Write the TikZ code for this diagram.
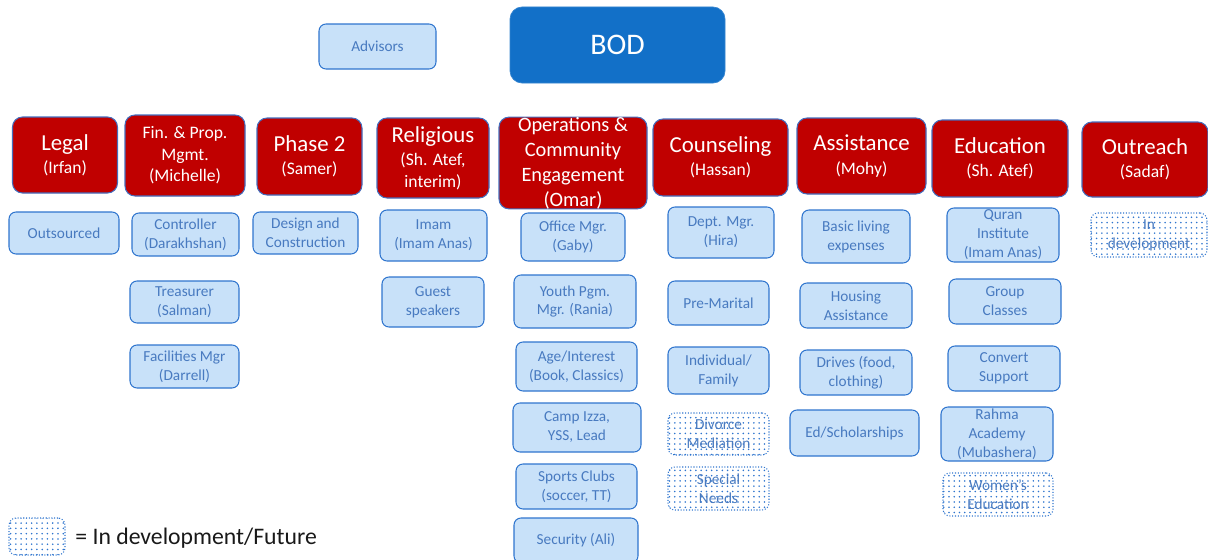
\documentclass[tikz,border=0pt]{standalone}
\usepackage{fontspec}
\setmainfont{Carlito}
\usepackage{tikz}
\usetikzlibrary{shapes}
\usetikzlibrary{positioning}
\usetikzlibrary{patterns}
\definecolor{bodblue}{RGB}{18,112,200}
\definecolor{deptred}{RGB}{192,0,0}
\definecolor{deptline}{RGB}{68,110,190}
\definecolor{unitfill}{RGB}{200,225,249}
\definecolor{unitline}{RGB}{47,117,206}
\definecolor{unittext}{RGB}{72,122,192}
\newcommand{\dtitle}[1]{{\fontsize{13}{15}\selectfont #1}}
\tikzset{
    bodbox/.style = {rectangle, rounded corners=0.24cm, draw=bodblue!85!white, fill=bodblue, text=white, inner sep=0pt, font=\fontsize{17}{20}\selectfont},
    deptbox/.style = {rectangle, rounded corners=0.2cm, line width=0.6pt, draw=deptline, fill=deptred, text=white, align=center, inner sep=0pt, font=\fontsize{10}{12.3}\selectfont},
    unitbox/.style = {rectangle, rounded corners=0.14cm, line width=0.6pt, draw=unitline, fill=unitfill, text=unittext, align=center, inner sep=0pt, font=\fontsize{8.7}{10.8}\selectfont},
    futbox/.style = {rectangle, rounded corners=0.14cm, line width=0.6pt, draw=unitline, densely dotted, pattern=dots, pattern color=unitline, text=unittext, align=center, inner sep=0pt, font=\fontsize{8.7}{10.8}\selectfont},
    legendtext/.style = {anchor=west, inner sep=0pt, text=black!90, font=\fontsize{13.5}{15}\selectfont}
}
\begin{document}
\begin{tikzpicture}[scale=1.00,transform shape]
\path[use as bounding box] (0,0) rectangle (24.16,-11.2);
%
\node[bodbox, minimum width=4.30cm, minimum height=1.52cm] at (12.35,-0.90) (bod) {BOD};
\node[unitbox, minimum width=2.34cm, minimum height=0.90cm] at (7.55,-0.93) (advisors) {Advisors};
%
\node[deptbox, minimum width=2.10cm, minimum height=1.52cm] at (1.30,-3.10) (legal) {\dtitle{Legal}\\[1pt](Irfan)};
\node[deptbox, minimum width=2.40cm, minimum height=1.62cm] at (3.70,-3.11) (fin) {Fin. \& Prop.\\Mgmt.\\(Michelle)};
\node[deptbox, minimum width=2.10cm, minimum height=1.54cm] at (6.19,-3.13) (phase) {\dtitle{Phase 2}\\[1pt](Samer)};
\node[deptbox, minimum width=2.24cm, minimum height=1.60cm] at (8.66,-3.16) (religious) {\dtitle{Religious}\\[1pt](Sh. Atef,\\interim)};
\node[deptbox, minimum width=2.96cm, minimum height=1.80cm, font=\fontsize{11.6}{14.2}\selectfont] at (11.46,-3.26) (ops) {Operations \&\\Community\\Engagement\\(Omar)};
\node[deptbox, minimum width=2.70cm, minimum height=1.54cm] at (14.41,-3.15) (counsel) {\dtitle{Counseling}\\[1pt](Hassan)};
\node[deptbox, minimum width=2.58cm, minimum height=1.52cm] at (17.23,-3.12) (assist) {\dtitle{Assistance}\\[1pt](Mohy)};
\node[deptbox, minimum width=2.72cm, minimum height=1.54cm] at (20.00,-3.17) (edu) {\dtitle{Education}\\[1pt](Sh. Atef)};
\node[deptbox, minimum width=2.52cm, minimum height=1.50cm] at (22.90,-3.19) (outreach) {\dtitle{Outreach}\\[1pt](Sadaf)};
%
\node[unitbox, minimum width=2.20cm, minimum height=0.84cm] at (1.28,-4.66) (outsourced) {Outsourced};
%
\node[unitbox, minimum width=2.14cm, minimum height=0.86cm] at (3.71,-4.69) (controller) {Controller\\(Darakhshan)};
\node[unitbox, minimum width=2.18cm, minimum height=0.84cm] at (3.69,-6.04) (treasurer) {Treasurer\\(Salman)};
\node[unitbox, minimum width=2.18cm, minimum height=0.86cm] at (3.69,-7.33) (facilities) {Facilities Mgr\\(Darrell)};
%
\node[unitbox, minimum width=2.10cm, minimum height=0.84cm] at (6.11,-4.66) (design) {Design and\\Construction};
%
\node[unitbox, minimum width=2.14cm, minimum height=1.02cm] at (8.67,-4.71) (imam) {Imam\\(Imam Anas)};
\node[unitbox, minimum width=2.04cm, minimum height=1.00cm] at (8.66,-6.04) (guest) {Guest\\speakers};
%
\node[unitbox, minimum width=2.08cm, minimum height=0.96cm] at (11.46,-4.74) (office) {Office Mgr.\\(Gaby)};
\node[unitbox, minimum width=2.44cm, minimum height=1.06cm] at (11.50,-6.03) (youth) {Youth Pgm.\\Mgr. (Rania)};
\node[unitbox, minimum width=2.42cm, minimum height=0.98cm] at (11.53,-7.33) (age) {Age/Interest\\(Book, Classics)};
\node[unitbox, minimum width=2.56cm, minimum height=0.98cm] at (11.54,-8.55) (camp) {Camp Izza,\\YSS, Lead};
\node[unitbox, minimum width=2.42cm, minimum height=0.90cm] at (11.53,-9.73) (sports) {Sports Clubs\\(soccer, TT)};
\node[unitbox, minimum width=2.48cm, minimum height=0.90cm] at (11.52,-10.81) (security) {Security (Ali)};
%
\node[unitbox, minimum width=2.12cm, minimum height=1.02cm] at (14.42,-4.65) (deptmgr) {Dept. Mgr.\\(Hira)};
\node[unitbox, minimum width=2.02cm, minimum height=0.88cm] at (14.37,-6.06) (premarital) {Pre-Marital};
\node[unitbox, minimum width=2.02cm, minimum height=0.94cm] at (14.37,-7.41) (individual) {Individual/\\Family};
\node[futbox, minimum width=2.02cm, minimum height=0.84cm] at (14.37,-8.68) (divorce) {Divorce\\Mediation};
\node[futbox, minimum width=2.02cm, minimum height=0.86cm] at (14.37,-9.77) (special) {Special\\Needs};
%
\node[unitbox, minimum width=2.16cm, minimum height=1.06cm] at (17.12,-4.73) (basic) {Basic living\\expenses};
\node[unitbox, minimum width=2.24cm, minimum height=0.90cm] at (17.12,-6.11) (housing) {Housing\\Assistance};
\node[unitbox, minimum width=2.24cm, minimum height=0.90cm] at (17.12,-7.45) (drives) {Drives (food,\\clothing)};
\node[unitbox, minimum width=2.58cm, minimum height=0.92cm] at (17.09,-8.66) (scholar) {Ed/Scholarships};
%
\node[unitbox, minimum width=2.24cm, minimum height=1.08cm] at (20.06,-4.70) (quran) {Quran\\Institute\\(Imam Anas)};
\node[unitbox, minimum width=2.24cm, minimum height=0.90cm] at (20.10,-6.03) (group) {Group\\Classes};
\node[unitbox, minimum width=2.24cm, minimum height=0.90cm] at (20.08,-7.37) (convert) {Convert\\Support};
\node[unitbox, minimum width=2.24cm, minimum height=1.08cm] at (19.94,-8.68) (rahma) {Rahma\\Academy\\(Mubashera)};
\node[futbox, minimum width=2.20cm, minimum height=0.86cm] at (19.96,-9.89) (women) {Women's\\Education};
%
\node[futbox, minimum width=2.32cm, minimum height=0.88cm] at (22.98,-4.70) (indev) {In\\development};
%
\node[futbox, minimum width=1.12cm, minimum height=0.74cm] at (0.74,-10.73) (legendbox) {};
\node[legendtext] at (1.50,-10.76) (legend) {= In development/Future};

\end{tikzpicture}
\end{document}
